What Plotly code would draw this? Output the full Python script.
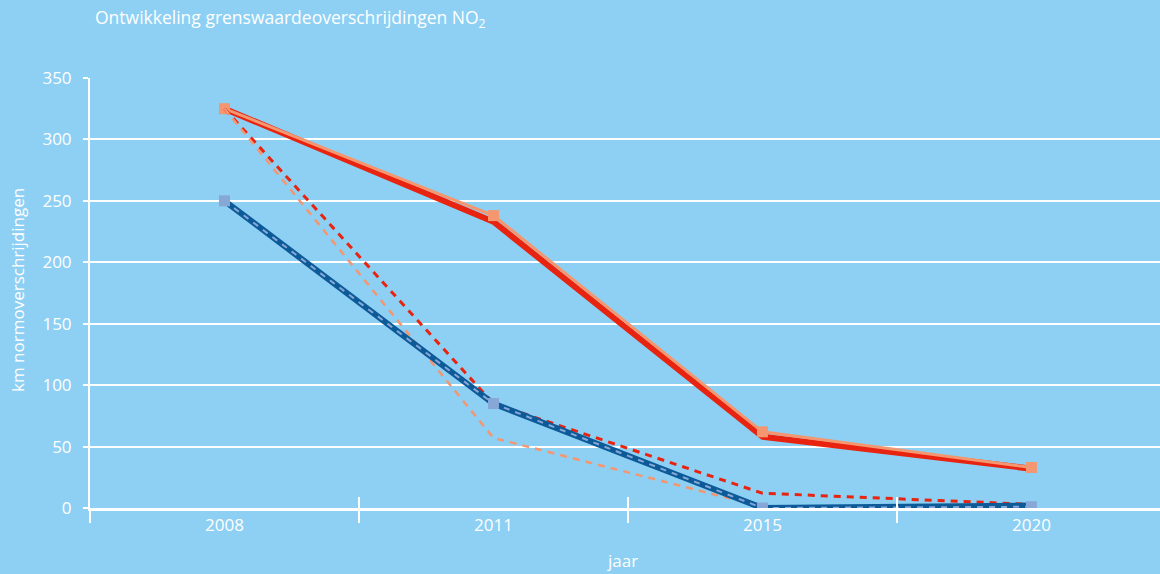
import plotly.graph_objects as go

# NO2 limit-value exceedances, km of road, per scenario
jaren = ["2008", "2011", "2015", "2020"]
rood_doorgetrokken = [325, 233, 58, 32]
zalm_doorgetrokken = [325, 238, 62, 33]
rood_gestippeld = [325, 85, 12, 3]
zalm_gestippeld = [325, 57, 1, 1]
blauw_doorgetrokken = [250, 85, 0, 2]
lichtblauw_gestippeld = [250, 85, 0, 1]

y_ticks = [0, 50, 100, 150, 200, 250, 300, 350]

BG = "#8DD0F3"
RED = "#E8230F"
SALMON = "#F4966F"
DARKBLUE = "#0D5A98"
LIGHTBLUE = "#87A8D6"
FONT = "Open Sans"

fig = go.Figure()

fig.add_trace(go.Scatter(x=jaren, y=rood_doorgetrokken, mode="lines",
                         line=dict(color=RED, width=6)))
fig.add_trace(go.Scatter(x=jaren, y=zalm_doorgetrokken, mode="lines+markers",
                         line=dict(color=SALMON, width=3),
                         marker=dict(symbol="square", size=11, color=SALMON)))
fig.add_trace(go.Scatter(x=jaren, y=rood_gestippeld, mode="lines",
                         line=dict(color=RED, width=3, dash="7px,6px")))
fig.add_trace(go.Scatter(x=jaren, y=zalm_gestippeld, mode="lines",
                         line=dict(color=SALMON, width=2.5, dash="7px,6px")))
fig.add_trace(go.Scatter(x=jaren, y=blauw_doorgetrokken, mode="lines",
                         line=dict(color=DARKBLUE, width=6)))
fig.add_trace(go.Scatter(x=jaren, y=lichtblauw_gestippeld, mode="lines+markers",
                         xaxis="x2",
                         line=dict(color=LIGHTBLUE, width=2, dash="6px,6px"),
                         marker=dict(symbol="square", size=11, color=LIGHTBLUE)))

x_range = [-0.5, 3.478]

fig.update_layout(
    width=1160, height=574,
    margin=dict(l=90, r=0, t=78, b=66),
    paper_bgcolor=BG, plot_bgcolor=BG,
    showlegend=False,
    font=dict(family=FONT, color="white", size=16),
    title=dict(text="Ontwikkeling grenswaardeoverschrijdingen NO<sub>2</sub>",
               x=95 / 1160, xanchor="left", y=1 - 18 / 574, yanchor="middle",
               font=dict(family=FONT, size=17.5, color="white")),
    xaxis=dict(type="category", categoryorder="array", categoryarray=jaren,
               range=x_range, tickson="boundaries", ticks="outside",
               ticklen=12, tickwidth=2, tickcolor="white",
               showline=True, linecolor="white", linewidth=3,
               showgrid=False, zeroline=False,
               tickfont=dict(family=FONT, size=17, color="white")),
    xaxis2=dict(type="category", categoryorder="array", categoryarray=jaren,
                overlaying="x", range=x_range, tickson="boundaries",
                ticks="inside", ticklen=11, tickwidth=2, tickcolor="white",
                showticklabels=False, showline=False, showgrid=False,
                zeroline=False),
    yaxis=dict(range=[0, 350], tickvals=y_ticks, ticks="outside", ticklen=5,
               tickwidth=2, tickcolor="white", showline=True,
               linecolor="white", linewidth=2, gridcolor="white", gridwidth=2,
               zeroline=False, ticklabelstandoff=8,
               tickfont=dict(family=FONT, size=17, color="white")),
)

fig.add_annotation(text="km normoverschrijdingen", textangle=-90,
                   xref="paper", yref="paper", x=(18 - 90) / 1070, y=0.507,
                   showarrow=False, xanchor="center", yanchor="middle",
                   font=dict(family=FONT, size=17, color="white"))
fig.add_annotation(text="jaar", xref="paper", yref="paper",
                   x=(622 - 90) / 1070, y=(508 - 560) / 430,
                   showarrow=False, xanchor="center", yanchor="middle",
                   font=dict(family=FONT, size=17, color="white"))

fig.write_html("out.html")
